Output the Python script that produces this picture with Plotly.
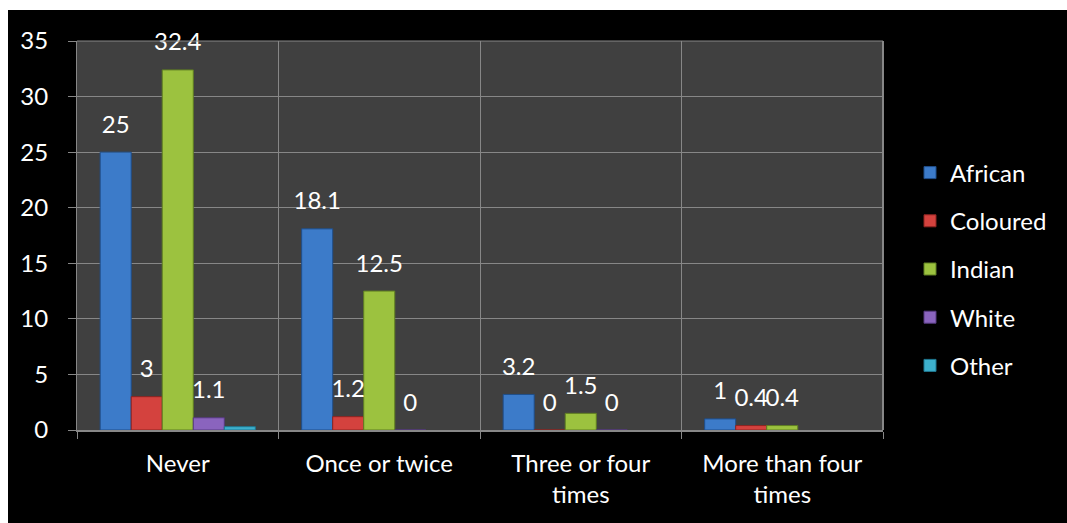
import plotly.graph_objects as go

categories = ["Never", "Once or twice", "Three or four<br>times", "More than four<br>times"]
series_names = ["African", "Coloured", "Indian", "White", "Other"]

african = [25, 18.1, 3.2, 1]
coloured = [3, 1.2, 0, 0.4]
indian = [32.4, 12.5, 1.5, 0.4]
white = [1.1, 0, 0, None]
other = [0.3, None, None, None]

african_labels = ["25", "18.1", "3.2", "1"]
coloured_labels = ["3", "1.2", "0", "0.4"]
indian_labels = ["32.4", "12.5", "1.5", "0.4"]
white_labels = ["1.1", "0", "0", ""]
other_labels = ["", "", "", ""]

values = [african, coloured, indian, white, other]
labels = [african_labels, coloured_labels, indian_labels, white_labels, other_labels]
colors = ["#3C7BC9", "#D4423E", "#9CC23F", "#8A64BE", "#3DB0CD"]
edges = ["#1F4E8A", "#8E2421", "#5F7E22", "#563A80", "#1F7790"]

FONT = "Lato"
FS = 24
W, H = 1067, 523
ML, MR, MT, MB = 77, 184, 41, 93
PW, PH = W - ML - MR, H - MT - MB

fig = go.Figure()
for i, name in enumerate(series_names):
    fig.add_trace(go.Bar(
        x=categories, y=values[i], name=name,
        marker=dict(color=colors[i], line=dict(color=edges[i], width=1)),
        offsetgroup=str(i), legendgroup=name,
    ))
for i, name in enumerate(series_names):
    ys = [v if v is not None else 0 for v in values[i]]
    fig.add_trace(go.Scatter(
        x=categories, y=ys, mode="markers+text", text=labels[i],
        textposition="top center", offsetgroup=str(i),
        marker=dict(size=20, opacity=0), showlegend=False, hoverinfo="skip",
        textfont=dict(family=FONT, size=FS, color="white"), cliponaxis=False,
    ))

def px_to_paper_x(px):
    return (px - ML) / PW

def px_to_paper_y(py):
    return (H - MB - py) / PH

shapes = [
    dict(type="rect", xref="paper", yref="paper", layer="above",
         x0=px_to_paper_x(-2), x1=px_to_paper_x(W + 2),
         y0=px_to_paper_y(10), y1=px_to_paper_y(-2),
         fillcolor="white", line=dict(width=0)),
    dict(type="rect", xref="paper", yref="paper", layer="above",
         x0=px_to_paper_x(-2), x1=px_to_paper_x(8),
         y0=px_to_paper_y(H + 2), y1=px_to_paper_y(-2),
         fillcolor="white", line=dict(width=0)),
    dict(type="line", xref="paper", yref="paper", x0=1, x1=1, y0=0, y1=1,
         line=dict(color="#878787", width=2)),
    dict(type="line", xref="paper", yref="paper", x0=0, x1=1, y0=1, y1=1,
         line=dict(color="#878787", width=1)),
]

fig.update_layout(
    width=W, height=H,
    margin=dict(l=ML, r=MR, t=MT, b=MB, autoexpand=False),
    paper_bgcolor="black", plot_bgcolor="#404040",
    barmode="group", bargap=0.23, bargroupgap=0,
    scattermode="group", scattergap=0.23,
    font=dict(family=FONT, size=FS, color="white"),
    legend=dict(x=px_to_paper_x(910), xanchor="left", y=px_to_paper_y(269), yanchor="middle",
                font=dict(family=FONT, size=FS, color="white"), tracegroupgap=14,
                bgcolor="rgba(0,0,0,0)"),
    shapes=shapes,
    xaxis=dict(showgrid=True, gridcolor="#878787", gridwidth=1, tickson="boundaries",
               ticks="outside", ticklen=7, tickcolor="#878787", showline=True,
               linecolor="#878787", linewidth=2, mirror=False, ticklabelstandoff=11,
               tickfont=dict(family=FONT, size=FS, color="white")),
    yaxis=dict(range=[0, 35], dtick=5, showgrid=True, gridcolor="#878787", gridwidth=1,
               ticks="outside", ticklen=8, tickcolor="#878787", showline=True,
               linecolor="#878787", linewidth=1, zeroline=False, ticklabelstandoff=15,
               tickfont=dict(family=FONT, size=FS, color="white")),
)

fig.write_html("out.html")
